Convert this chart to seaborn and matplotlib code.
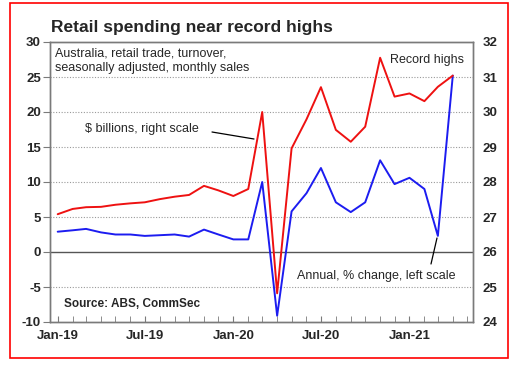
import matplotlib
matplotlib.use("Agg")
import matplotlib.pyplot as plt
import matplotlib.dates as mdates
import matplotlib.patches as mpatches
import pandas as pd
import seaborn as sns

# monthly data, Jan-19 .. Apr-21
months = pd.date_range("2019-01-01", periods=28, freq="MS")
turnover_bn = [27.08, 27.23, 27.28, 27.29, 27.35, 27.39, 27.42, 27.51, 27.58, 27.63,
               27.89, 27.76, 27.60, 27.80, 30.00, 24.82, 28.96, 29.79, 30.71, 29.49,
               29.15, 29.58, 31.55, 30.44, 30.53, 30.31, 30.72, 31.04]
annual_pct = [2.9, 3.1, 3.3, 2.8, 2.5, 2.5, 2.3, 2.4, 2.5, 2.2,
              3.2, 2.5, 1.8, 1.8, 10.0, -9.1, 5.8, 8.4, 12.0, 7.1,
              5.7, 7.1, 13.1, 9.7, 10.6, 9.0, 2.3, 25.2]
left_ticks = [-10, -5, 0, 5, 10, 15, 20, 25, 30]
right_ticks = [24, 25, 26, 27, 28, 29, 30, 31, 32]

df = pd.DataFrame({"month": months, "turnover": turnover_bn, "annual": annual_pct})

sns.set_style("white")
plt.rcParams["font.family"] = ["Liberation Sans", "DejaVu Sans"]
plt.rcParams["axes.unicode_minus"] = False

W, H = 513, 366
fig = plt.figure(figsize=(W / 100, H / 100), dpi=100)
ax = fig.add_axes([50 / W, 1 - 322 / H, 423 / W, 280 / H])
ax2 = ax.twinx()

def fx(x, y):
    return (x / W, 1 - y / H)

# grid + zero line
for v in left_ticks[1:-1]:
    if v == 0:
        ax.axhline(v, color="#555555", lw=1.0, zorder=1)
    else:
        ax.axhline(v, color="#9a9a9a", lw=0.8, ls=(0, (1, 1.5)), zorder=1)

sns.lineplot(data=df, x="month", y="annual", ax=ax, color="#1c1cf0", lw=1.4, zorder=3)
sns.lineplot(data=df, x="month", y="turnover", ax=ax2, color="#ee1111", lw=1.4, zorder=3)

ax.set_ylim(-10, 30)
ax2.set_ylim(24, 32)
ax.set_yticks(left_ticks)
ax2.set_yticks(right_ticks)
ax.set_xlim(pd.Timestamp("2018-12-16"), pd.Timestamp("2021-05-13"))
ax.xaxis.set_major_locator(mdates.MonthLocator(bymonth=[1, 7]))
ax.xaxis.set_minor_locator(mdates.MonthLocator())
ax.xaxis.set_major_formatter(mdates.DateFormatter("%b-%y"))
for a in (ax, ax2):
    a.set_xlabel("")
    a.set_ylabel("")
    for s in a.spines.values():
        s.set_color("#7a7a7a")
        s.set_linewidth(1.0)

ax.tick_params(axis="x", which="both", direction="in", length=4, color="#7a7a7a",
               bottom=True, pad=6, labelsize=9.5)
ax.tick_params(axis="y", direction="out", length=5, color="#7a7a7a", left=True,
               pad=1.5, labelsize=9.5)
ax2.tick_params(axis="y", length=0, pad=7, labelsize=9.5)
for lab in ax.get_xticklabels() + ax.get_yticklabels() + ax2.get_yticklabels():
    lab.set_fontweight("bold")

# texts
fig.text(*fx(51, 32), "Retail spending near record highs", fontsize=12.5,
         fontweight="bold", va="baseline")
fig.text(*fx(55, 60.5), "Australia, retail trade, turnover,\nseasonally adjusted, monthly sales",
         fontsize=9, va="center", linespacing=1.3)
fig.text(*fx(390, 60), "Record highs", fontsize=9, va="center")
fig.text(*fx(85, 129), "$ billions, right scale", fontsize=9, va="center")
fig.text(*fx(297, 276), "Annual, % change, left scale", fontsize=9, va="center")
fig.text(*fx(64, 304), "Source: ABS, CommSec", fontsize=8.5, fontweight="bold", va="center")

# leader lines
fig.add_artist(plt.Line2D([212 / W, 254 / W], [1 - 132 / H, 1 - 139 / H], color="black", lw=0.9))
fig.add_artist(plt.Line2D([431 / W, 437 / W], [1 - 264 / H, 1 - 238 / H], color="black", lw=0.9))

# red border
fig.add_artist(mpatches.Rectangle((10 / W, 1 - 358 / H), 498 / W, 355 / H,
                                  transform=fig.transFigure, fill=False,
                                  edgecolor="red", lw=1.2))

fig.savefig("out.png", dpi=100)
